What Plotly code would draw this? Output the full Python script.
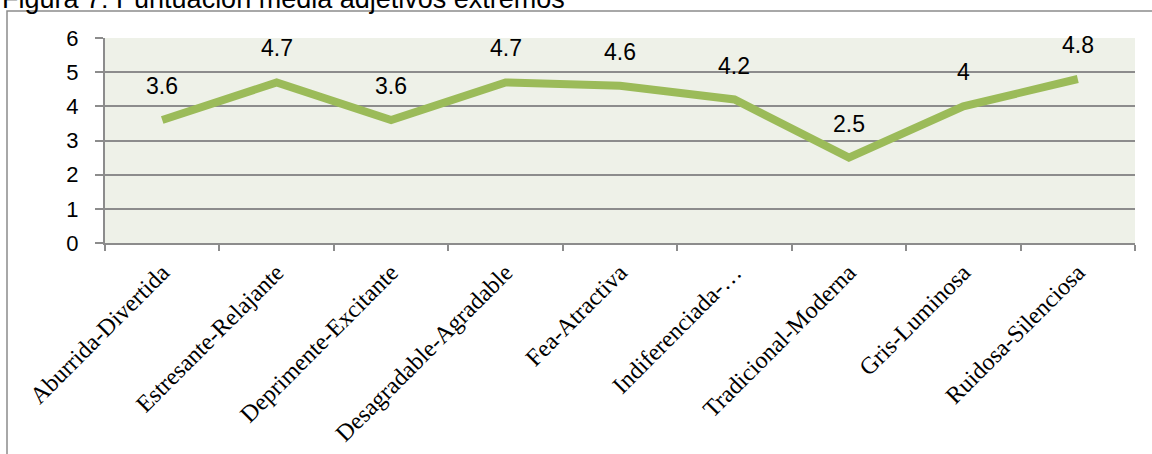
import plotly.graph_objects as go

categories = ["Aburrida-Divertida", "Estresante-Relajante", "Deprimente-Excitante",
              "Desagradable-Agradable", "Fea-Atractiva", "Indiferenciada-…",
              "Tradicional-Moderna", "Gris-Luminosa", "Ruidosa-Silenciosa"]
values = [3.6, 4.7, 3.6, 4.7, 4.6, 4.2, 2.5, 4, 4.8]
value_labels = ["3.6", "4.7", "3.6", "4.7", "4.6", "4.2", "2.5", "4", "4.8"]
y_ticks = [0, 1, 2, 3, 4, 5, 6]
title_text = "Figura 7: Puntuación media adjetivos extremos"

W, H = 1152, 454
L, R, T, B = 105, 17, 38, 211
pw, ph = W - L - R, H - T - B

def px_x(p):
    return (p - L) / pw

def px_y(p):
    return (H - B - p) / ph

fig = go.Figure()
fig.add_trace(go.Scatter(
    x=categories, y=values, mode="lines",
    line=dict(color="#9BBB59", width=8),
    hoverinfo="skip", showlegend=False,
))

for c, v, t in zip(categories, values, value_labels):
    fig.add_annotation(x=c, y=v, text=t, showarrow=False, yshift=34,
                       font=dict(family="Liberation Sans", size=23, color="#000000"))

fig.add_annotation(xref="paper", yref="paper", x=px_x(0), y=px_y(-1.5),
                   xanchor="left", yanchor="middle", text=title_text, showarrow=False,
                   font=dict(family="Liberation Sans", size=27, color="#000000"))

# chart border
fig.add_shape(type="rect", xref="paper", yref="paper",
              x0=px_x(7), y0=px_y(500), x1=px_x(1200), y1=px_y(11),
              line=dict(color="#8c8c8c", width=1.5), fillcolor="rgba(0,0,0,0)", layer="below")

fig.update_layout(
    width=W, height=H,
    margin=dict(l=L, r=R, t=T, b=B, pad=0, autoexpand=False),
    paper_bgcolor="white", plot_bgcolor="#EEF1E8",
    showlegend=False,
    xaxis=dict(
        type="category", range=[-0.5, len(categories) - 0.5],
        tickangle=-45, tickson="boundaries", ticks="outside", ticklen=6,
        tickcolor="#8c8c8c", tickwidth=2,
        showgrid=False, showline=True, linecolor="#8c8c8c", linewidth=2,
        tickfont=dict(family="Liberation Serif", size=24, color="#000000"),
        ticklabelstandoff=4, automargin=False,
        fixedrange=True,
    ),
    yaxis=dict(
        range=[0, 6], tickvals=y_ticks, ticktext=[str(t) for t in y_ticks],
        ticks="outside", ticklen=8, tickcolor="#8c8c8c", tickwidth=2,
        showgrid=True, gridcolor="#8c8c8c", gridwidth=2,
        showline=True, linecolor="#8c8c8c", linewidth=2,
        zeroline=False, ticklabelstandoff=12, automargin=False,
        tickfont=dict(family="Liberation Sans", size=22, color="#000000"),
        fixedrange=True,
    ),
)

fig.write_html("out.html")
